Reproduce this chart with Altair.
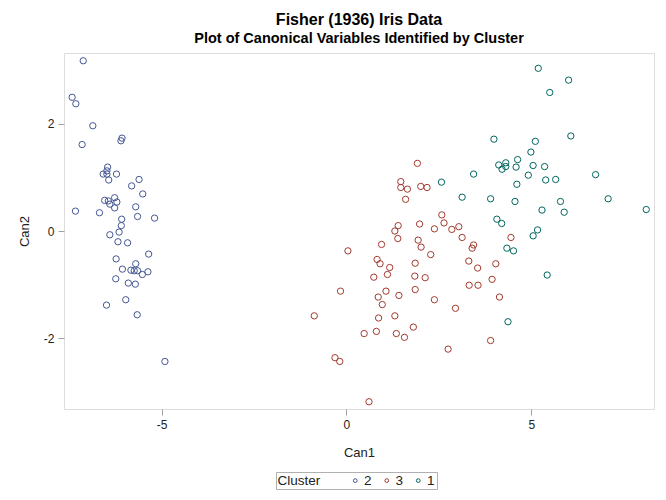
import altair as alt
import pandas as pd

# Cluster 2 (blue)
c2_can1 = [-7.12, -7.42, -7.32, -6.86, -7.15, -6.07, -6.10, -6.46, -6.48, -6.58,
           -6.48, -6.22, -6.43, -5.61, -5.81, -5.51, -6.27, -6.54, -6.44, -6.21,
           -6.40, -5.70, -6.27, -7.33, -6.68, -5.65, -5.19, -6.08, -6.09, -6.15,
           -6.40, -6.18, -5.92, -5.35, -6.23, -5.70, -6.06, -5.83, -5.74, -5.65,
           -5.37, -5.52, -6.24, -5.90, -5.71, -5.97, -6.49, -5.66, -4.91]
c2_can2 = [3.17, 2.49, 2.37, 1.96, 1.61, 1.73, 1.68, 1.19, 1.12, 1.06,
           1.06, 1.06, 0.95, 0.96, 0.84, 0.69, 0.62, 0.57, 0.56, 0.54,
           0.50, 0.45, 0.43, 0.37, 0.34, 0.27, 0.24, 0.22, 0.10, -0.02,
           -0.07, -0.20, -0.22, -0.43, -0.52, -0.61, -0.71, -0.73, -0.74, -0.74,
           -0.76, -0.81, -0.89, -0.97, -0.99, -1.28, -1.38, -1.56, -2.43]

# Cluster 3 (red)
c3_can1 = [1.92, 1.47, 1.47, 1.65, 2.01, 2.18, 1.60, 2.58, 2.64, 1.98,
           1.40, 1.31, 2.38, 2.85, 3.04, 1.39, 1.94, 3.13, 0.95, 2.02,
           3.44, 3.40, 0.04, 2.28, 0.83, 0.91, 1.86, 3.31, 1.17, 3.55,
           4.04, 1.11, 0.74, 1.85, 2.13, 3.94, 3.32, 3.56, -0.16, 1.07,
           1.86, 4.14, 0.86, 0.97, 1.42, 2.38, 2.95, -0.87, 0.87, 1.31,
           0.48, 0.81, 1.35, 1.57, 1.81, 3.90, 2.75, -0.31, -0.18, 0.61,
           4.45]
c3_can2 = [1.26, 0.92, 0.81, 0.78, 0.83, 0.81, 0.59, 0.30, 0.15, 0.13,
           0.10, 0.00, 0.04, 0.03, 0.08, -0.14, -0.17, -0.12, -0.25, -0.30,
           -0.26, -0.32, -0.37, -0.44, -0.53, -0.61, -0.60, -0.56, -0.68, -0.69,
           -0.61, -0.81, -0.86, -0.84, -0.87, -0.90, -1.01, -1.01, -1.12, -1.12,
           -1.09, -1.23, -1.23, -1.37, -1.20, -1.28, -1.44, -1.58, -1.62, -1.58,
           -1.91, -1.87, -1.91, -1.98, -1.79, -2.04, -2.20, -2.36, -2.43, -3.18,
           -0.12]

# Cluster 1 (teal)
c1_can1 = [5.19, 6.01, 5.50, 3.99, 6.07, 5.11, 4.99, 4.63, 4.12, 4.31,
           4.21, 4.31, 4.59, 5.05, 5.36, 3.44, 4.92, 6.74, 2.57, 4.61,
           5.39, 5.66, 3.13, 3.90, 4.56, 5.79, 7.08, 5.29, 5.89, 8.11,
           4.07, 4.20, 5.17, 5.05, 4.34, 4.52, 5.43, 4.37]
c1_can2 = [3.03, 2.81, 2.58, 1.71, 1.77, 1.67, 1.47, 1.33, 1.23, 1.27,
           1.15, 1.20, 1.19, 1.22, 1.20, 1.06, 1.04, 1.05, 0.91, 0.87,
           0.95, 0.96, 0.63, 0.60, 0.55, 0.55, 0.60, 0.39, 0.35, 0.40,
           0.22, 0.14, 0.02, -0.09, -0.32, -0.37, -0.82, -1.69]

cluster_order = ["2", "3", "1"]
cluster_colors = ["#445694", "#A23A2E", "#01665E"]

rows = []
for lab, xs, ys in [("2", c2_can1, c2_can2), ("3", c3_can1, c3_can2), ("1", c1_can1, c1_can2)]:
    for a, b in zip(xs, ys):
        rows.append({"Can1": a, "Can2": b, "Cluster": lab})
df = pd.DataFrame(rows)

font = "Liberation Sans"

chart = alt.Chart(df).mark_point(shape="circle", filled=False, size=40, strokeWidth=1, opacity=1).encode(
    x=alt.X("Can1:Q",
            scale=alt.Scale(domain=[-7.64, 8.32], nice=False, zero=False),
            axis=alt.Axis(values=[-5, 0, 5], title="Can1", grid=False, domain=False,
                          tickSize=6, tickColor="#a0a0a0", labelPadding=4,
                          labelExpr="'' + datum.value",
                          labelFontSize=12, labelColor="#222", titleFontSize=13,
                          titleFontWeight="normal", titleColor="#222", titlePadding=16,
                          labelFont=font, titleFont=font)),
    y=alt.Y("Can2:Q",
            scale=alt.Scale(domain=[-3.315, 3.315], nice=False, zero=False),
            axis=alt.Axis(values=[-2, 0, 2], title="Can2", grid=False, domain=False,
                          tickSize=6, tickColor="#a0a0a0", labelPadding=4,
                          labelExpr="'' + datum.value",
                          labelFontSize=12, labelColor="#222", titleFontSize=13,
                          titleFontWeight="normal", titleColor="#222", titlePadding=12,
                          labelFont=font, titleFont=font)),
    color=alt.Color("Cluster:N",
                    scale=alt.Scale(domain=cluster_order, range=cluster_colors),
                    legend=alt.Legend(orient="none", legendX=212, legendY=419,
                                      direction="horizontal", titleOrient="left",
                                      title="Cluster", titleFontSize=13.5, titleFontWeight="normal",
                                      titleColor="#222", labelFontSize=13.5, labelColor="#222",
                                      titleFont=font, labelFont=font,
                                      symbolSize=14, symbolStrokeWidth=1, symbolType="circle",
                                      strokeColor="#b0b0b0", padding=1.5, titlePadding=28,
                                      columnPadding=7.5, labelOffset=2)),
).properties(
    width=590, height=356,
    title=alt.TitleParams(text="Fisher (1936) Iris Data",
                          subtitle="Plot of Canonical Variables Identified by Cluster",
                          fontSize=16, subtitleFontSize=14.5, font=font, subtitleFont=font,
                          fontWeight="bold", subtitleFontWeight="bold",
                          color="#000", subtitleColor="#000", anchor="middle",
                          offset=8, subtitlePadding=4),
    autosize=alt.AutoSizeParams(type="none"),
    padding={"left": 56, "top": 45, "right": 4, "bottom": 88},
).configure_view(stroke="#a8a8a8", strokeWidth=1).configure(background="white")

chart.save("out.html", embed_options={"renderer": "svg", "actions": False})
